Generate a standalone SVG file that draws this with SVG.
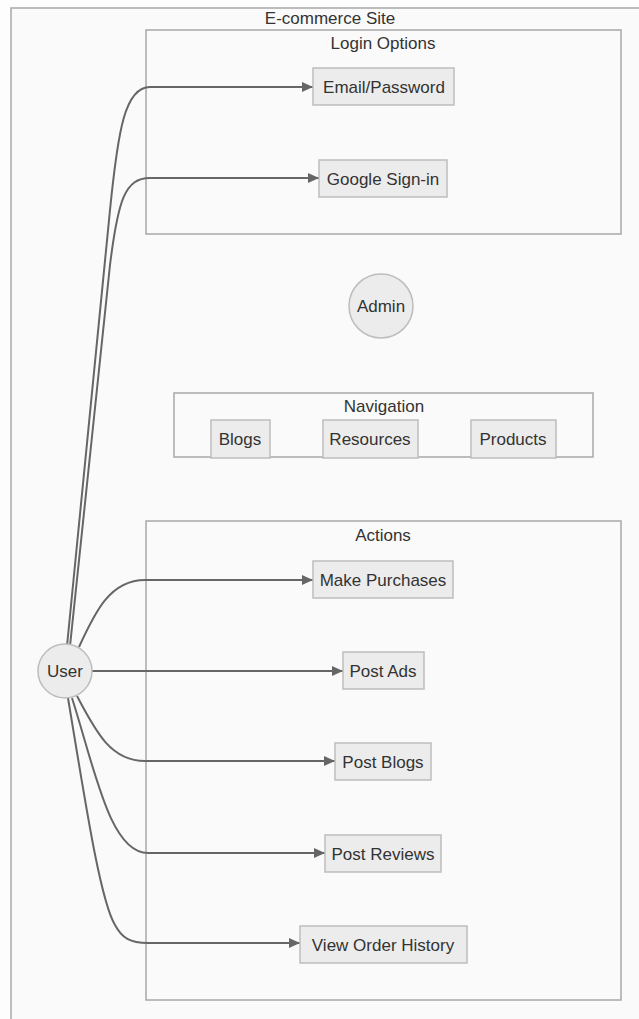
<svg xmlns="http://www.w3.org/2000/svg" width="639" height="1019" viewBox="0 0 639 1019">
  <style>
    .cluster { fill: #fafafa; stroke: #a8a8a8; stroke-width: 1.5; }
    .node rect, .node circle { fill: #ececec; stroke: #bdbdbd; stroke-width: 1.5; }
    text { font-family: "Liberation Sans", Arial, sans-serif; font-size: 17px; fill: #333; text-anchor: middle; }
    .title { font-size: 17px; }
    .edge { fill: none; stroke: #666; stroke-width: 2; }
  </style>
  <defs>
    <marker id="arrow" markerUnits="userSpaceOnUse" markerWidth="12" markerHeight="12" refX="11" refY="6" orient="auto">
      <path d="M0,1 L11,6 L0,11 Z" fill="#666"/>
    </marker>
  </defs>
  <rect x="0" y="0" width="639" height="1019" fill="#fdfdfd"/>

  <g id="cluster-ecommerce">
    <rect class="cluster" x="11" y="8" width="700" height="1100"/>
    <text class="title" x="330" y="24">E-commerce Site</text>
  </g>
  <g id="cluster-login">
    <rect class="cluster" x="146" y="30" width="475" height="204"/>
    <text class="title" x="383" y="49">Login Options</text>
  </g>
  <g id="cluster-navigation">
    <rect class="cluster" x="174" y="393" width="419" height="64"/>
    <text class="title" x="384" y="412">Navigation</text>
  </g>
  <g id="cluster-actions">
    <rect class="cluster" x="146" y="521" width="475" height="479"/>
    <text class="title" x="383" y="541">Actions</text>
  </g>

  <g id="connectors">
    <path class="edge" marker-end="url(#arrow)" d="M67,646 L110,210 C118,130 125,87 150,87 L313,87"/>
    <path class="edge" marker-end="url(#arrow)" d="M70,646 L110,265 C118,200 125,178 150,178 L319,178"/>
    <path class="edge" marker-end="url(#arrow)" d="M79,647 C95,612 110,580 145,580 L313,580"/>
    <path class="edge" marker-end="url(#arrow)" d="M92,671 L343,671"/>
    <path class="edge" marker-end="url(#arrow)" d="M77,696 C95,730 110,761 145,761 L335,761"/>
    <path class="edge" marker-end="url(#arrow)" d="M72,698 C95,770 110,853 148,853 L325,853"/>
    <path class="edge" marker-end="url(#arrow)" d="M68,698 C85,800 100,900 115,925 C122,938 130,943 148,943 L300,943"/>
  </g>

  <g id="node-email" class="node">
    <rect x="313" y="68" width="141" height="37"/>
    <text x="384" y="92.5">Email/Password</text>
  </g>
  <g id="node-google" class="node">
    <rect x="319" y="160" width="128" height="37"/>
    <text x="383" y="184.5">Google Sign-in</text>
  </g>
  <g id="node-admin" class="node">
    <circle cx="381" cy="306" r="32"/>
    <text x="381" y="312">Admin</text>
  </g>
  <g id="node-blogs" class="node">
    <rect x="211" y="420" width="59" height="38"/>
    <text x="240" y="445">Blogs</text>
  </g>
  <g id="node-resources" class="node">
    <rect x="323" y="420" width="95" height="38"/>
    <text x="370" y="445">Resources</text>
  </g>
  <g id="node-products" class="node">
    <rect x="471" y="420" width="85" height="38"/>
    <text x="513" y="445">Products</text>
  </g>
  <g id="node-user" class="node">
    <circle cx="65" cy="671" r="27"/>
    <text x="65" y="677">User</text>
  </g>
  <g id="node-purchases" class="node">
    <rect x="313" y="561" width="140" height="37"/>
    <text x="383" y="585.5">Make Purchases</text>
  </g>
  <g id="node-ads" class="node">
    <rect x="343" y="652" width="81" height="37"/>
    <text x="383" y="676.5">Post Ads</text>
  </g>
  <g id="node-postblogs" class="node">
    <rect x="335" y="743" width="96" height="37"/>
    <text x="383" y="767.5">Post Blogs</text>
  </g>
  <g id="node-reviews" class="node">
    <rect x="325" y="835" width="116" height="37"/>
    <text x="383" y="859.5">Post Reviews</text>
  </g>
  <g id="node-history" class="node">
    <rect x="300" y="926" width="167" height="37"/>
    <text x="383" y="950.5">View Order History</text>
  </g>
</svg>
